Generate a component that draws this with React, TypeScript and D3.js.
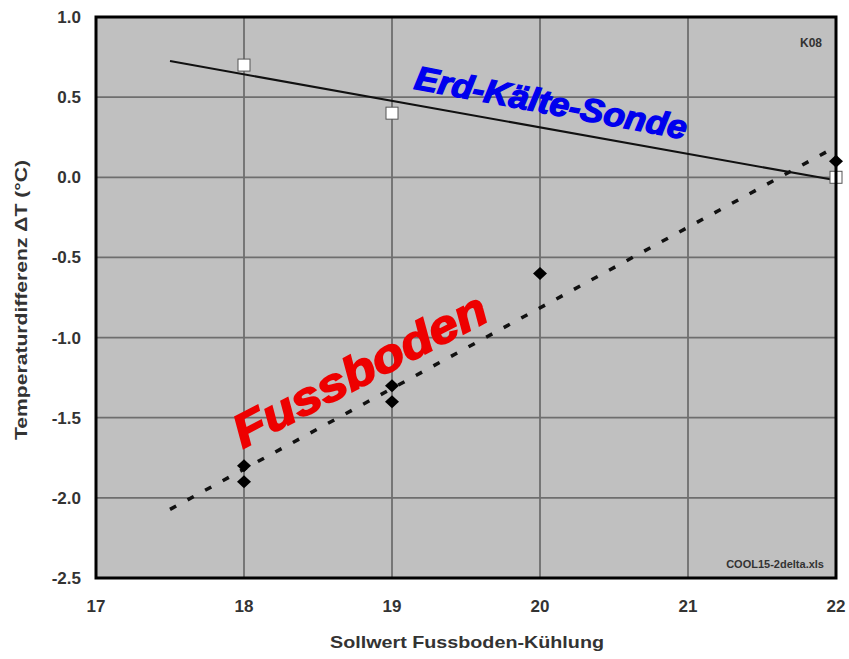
import React from "react";
import * as d3 from "d3";

// Sollwert Fussboden-Kühlung (°C) and measured temperature difference ΔT (°C)
const sondeX = [18, 19, 22];
const sondeY = [0.7, 0.4, 0.0];
const bodenX = [18, 18, 19, 19, 20, 22];
const bodenY = [-1.8, -1.9, -1.3, -1.4, -0.6, 0.1];

const xTicks = [17, 18, 19, 20, 21, 22];
const yTicks = [1.0, 0.5, 0.0, -0.5, -1.0, -1.5, -2.0, -2.5];
const trendRange = [17.5, 22];

const W = 849;
const H = 659;
const plot = { left: 96, right: 836, top: 17, bottom: 578 };

// least-squares fit used for the trend lines
function fit(xs: number[], ys: number[]) {
  const mx = d3.mean(xs)!;
  const my = d3.mean(ys)!;
  const sxy = d3.sum(xs.map((x, i) => (x - mx) * (ys[i] - my)));
  const sxx = d3.sum(xs.map((x) => (x - mx) ** 2));
  const b = sxy / sxx;
  return (x: number) => my + b * (x - mx);
}

export default function App() {
  const x = d3.scaleLinear().domain([17, 22]).range([plot.left, plot.right]);
  const y = d3.scaleLinear().domain([-2.5, 1]).range([plot.bottom, plot.top]);

  const fS = fit(sondeX, sondeY);
  const fB = fit(bodenX, bodenY);
  const sondePath = d3
    .line<number>()
    .x((v) => x(v))
    .y((v) => y(fS(v)))(trendRange)!;
  const bodenPath = d3
    .line<number>()
    .x((v) => x(v))
    .y((v) => y(fB(v)))(trendRange)!;

  const font = "'Liberation Sans', Arial, sans-serif";
  const diamond = "M0,-6.5L7,0L0,6.5L-7,0Z";

  return (
    <svg
      width={W}
      height={H}
      style={{ position: "absolute", left: 0, top: 0, background: "#fff" }}
      fontFamily={font}
    >
      <defs>
        <clipPath id="plotClip">
          <rect
            x={plot.left}
            y={plot.top}
            width={plot.right - plot.left}
            height={plot.bottom - plot.top}
          />
        </clipPath>
      </defs>
      <rect
        x={plot.left}
        y={plot.top}
        width={plot.right - plot.left}
        height={plot.bottom - plot.top}
        fill="#c0c0c0"
      />
      {/* grid */}
      {xTicks.slice(1, -1).map((t) => (
        <line
          key={"gx" + t}
          x1={x(t)}
          x2={x(t)}
          y1={plot.top}
          y2={plot.bottom}
          stroke="#6e6e6e"
          strokeWidth={1.8}
        />
      ))}
      {yTicks.slice(1, -1).map((t) => (
        <line
          key={"gy" + t}
          x1={plot.left}
          x2={plot.right}
          y1={y(t)}
          y2={y(t)}
          stroke="#6e6e6e"
          strokeWidth={1.8}
        />
      ))}

      <g clipPath="url(#plotClip)">
        <path d={sondePath} stroke="#111" strokeWidth={2} fill="none" />
        <path
          d={bodenPath}
          stroke="#111"
          strokeWidth={3.5}
          strokeDasharray="7 13"
          fill="none"
        />
      </g>

      {/* series labels */}
      <text
        transform={`translate(549,114) rotate(10.6)`}
        textAnchor="middle"
        fontSize={33}
        fontWeight="bold"
        fontStyle="italic"
        fill="#0000ee"
        stroke="#0000ee"
        strokeWidth={1.4}
        textLength={276}
        lengthAdjust="spacingAndGlyphs"
      >
        Erd-Kälte-Sonde
      </text>
      <text
        transform={`translate(367,384) rotate(-27.5)`}
        textAnchor="middle"
        fontSize={46}
        fontWeight="bold"
        fontStyle="italic"
        fill="#ee0000"
        stroke="#ee0000"
        strokeWidth={1.8}
        textLength={280}
        lengthAdjust="spacingAndGlyphs"
      >
        Fussboden
      </text>

      {/* markers */}
      {bodenX.map((v, i) => (
        <path
          key={"b" + i}
          d={diamond}
          transform={`translate(${x(v)},${y(bodenY[i])})`}
          fill="#000"
        />
      ))}
      {sondeX.map((v, i) => (
        <rect
          key={"s" + i}
          x={x(v) - 6}
          y={y(sondeY[i]) - 6}
          width={12}
          height={12}
          fill="#fff"
          stroke="#555"
          strokeWidth={1}
        />
      ))}

      {/* frame */}
      <rect
        x={plot.left}
        y={plot.top}
        width={plot.right - plot.left}
        height={plot.bottom - plot.top}
        fill="none"
        stroke="#000"
        strokeWidth={3}
      />

      <text x={822} y={47} textAnchor="end" fontSize={12} fontWeight="bold" fill="#333">
        K08
      </text>
      <text x={824} y={568} textAnchor="end" fontSize={11} fontWeight="bold" fill="#333">
        COOL15-2delta.xls
      </text>

      {/* axes */}
      {yTicks.map((t) => (
        <text
          key={"yl" + t}
          x={81}
          y={y(t)}
          dy="0.35em"
          textAnchor="end"
          fontSize={17}
          fontWeight="bold"
          fill="#333"
        >
          {t.toFixed(1)}
        </text>
      ))}
      {xTicks.map((t) => (
        <text
          key={"xl" + t}
          x={x(t)}
          y={612}
          textAnchor="middle"
          fontSize={17}
          fontWeight="bold"
          fill="#333"
        >
          {t}
        </text>
      ))}
      <text
        x={467}
        y={648}
        textAnchor="middle"
        fontSize={17}
        fontWeight="bold"
        fill="#333"
        textLength={274}
        lengthAdjust="spacingAndGlyphs"
      >
        Sollwert Fussboden-Kühlung
      </text>
      <text
        transform={`translate(27,300) rotate(-90)`}
        textAnchor="middle"
        fontSize={16}
        fontWeight="bold"
        fill="#333"
        textLength={280}
        lengthAdjust="spacingAndGlyphs"
      >
        Temperaturdifferenz  ΔT (°C)
      </text>
    </svg>
  );
}
